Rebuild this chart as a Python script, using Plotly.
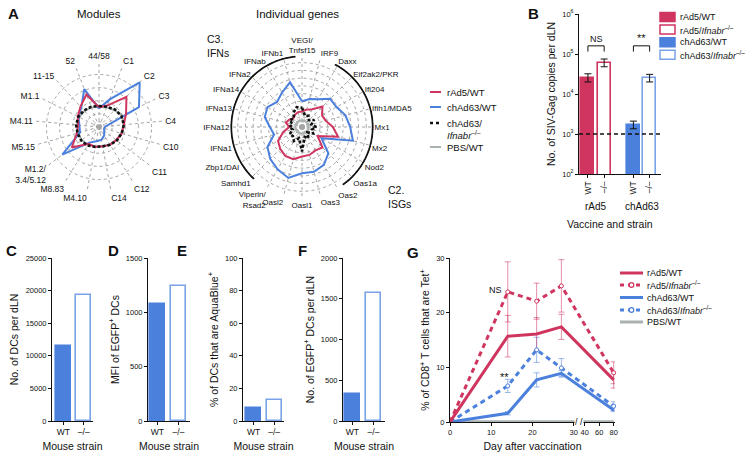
import plotly.graph_objects as go
import numpy as np

W, H = 752, 459
FONT = "Liberation Sans, Arial, Helvetica, sans-serif"
RED = "#D03560"
BLUE = "#4C80DD"
LBLUE = "#7AA2E8"
GRAY = "#A9B1B1"
BLACK = "#111111"
GRID = "#A4A4A4"

# ---------------- data ----------------
# Panel A - modules (clockwise from top)
modules = ["44/58", "C1", "C2", "C3", "C4", "C10", "C11", "C12", "C14", "M4.10", "M8.83",
           "M1.2/<br>3.4/5.12", "M5.15", "M4.11", "M1.1", "11-15", "52"]
mod_rad5_wt = [0.30, 0.35, 0.62, 0.46, 0.38, 0.36, 0.33, 0.32, 0.30, 0.31, 0.30, 0.52, 0.35, 0.32, 0.36, 0.42, 0.53]
mod_chad63_wt = [0.28, 0.45, 0.92, 0.68, 0.10, 0.08, 0.10, 0.15, 0.20, 0.22, 0.28, 0.70, 0.30, 0.30, 0.35, 0.40, 0.62]
mod_chad63_ko = [0.32, 0.33, 0.36, 0.38, 0.38, 0.36, 0.34, 0.32, 0.30, 0.31, 0.33, 0.34, 0.34, 0.35, 0.35, 0.34, 0.33]
mod_pbs = [0.31, 0.32, 0.35, 0.39, 0.38, 0.35, 0.33, 0.31, 0.30, 0.30, 0.32, 0.33, 0.33, 0.34, 0.34, 0.33, 0.32]

# Panel A - individual genes (clockwise from top)
genes = ["VEGI/<br>Tnfsf15", "IRF9", "Daxx", "Eif2ak2/PKR", "Ifi204", "Ifih1/MDA5", "Mx1", "Mx2", "Nod2",
         "Oas1a", "Oas2", "Oas3", "Oasl1", "Oasl2", "Viperin/<br>Rsad2", "Samhd1", "Zbp1/DAI", "IFNa1",
         "IFNa12", "IFNa13", "IFNa14", "IFNa2", "IFNab", "IFNb1"]
gene_rad5_wt = [0.24, 0.28, 0.32, 0.45, 0.36, 0.38, 0.48, 0.58, 0.28, 0.45, 0.42, 0.45, 0.46, 0.52, 0.52,
                0.48, 0.43, 0.30, 0.20, 0.26, 0.23, 0.19, 0.22, 0.24]
gene_chad63_wt = [0.40, 0.45, 0.50, 0.62, 0.62, 0.70, 0.75, 0.82, 0.35, 0.58, 0.68, 0.72, 0.72, 0.82, 0.76,
                  0.70, 0.62, 0.45, 0.50, 0.60, 0.62, 0.55, 0.62, 0.72]
gene_chad63_ko = [0.30, 0.18, 0.20, 0.15, 0.22, 0.15, 0.22, 0.16, 0.20, 0.12, 0.20, 0.16, 0.38, 0.18, 0.25,
                  0.20, 0.22, 0.15, 0.20, 0.15, 0.22, 0.18, 0.26, 0.32]
gene_pbs = [0.10] * len(genes)
group_c2_isgs = ["Daxx", "Eif2ak2/PKR", "Ifi204", "Ifih1/MDA5", "Mx1", "Mx2", "Nod2", "Oas1a"]
group_c3_ifns = ["Samhd1", "Zbp1/DAI", "IFNa1", "IFNa12", "IFNa13", "IFNa14", "IFNa2", "IFNab", "IFNb1"]

# Panel B
b_groups = ["rAd5", "chAd63"]
b_strains = ["WT", "–/–"]
b_vals = [2.5e4, 6.0e4, 1.7e3, 2.5e4]
b_hi = [3.2e4, 7.5e4, 2.1e3, 3.1e4]
b_lo = [2.0e4, 4.8e4, 1.35e3, 2.0e4]
b_limit = 1.0e3
b_names = ["rAd5/WT", "rAd5/<i>Ifnabr</i><sup>–/–</sup>", "chAd63/WT", "chAd63/<i>Ifnabr</i><sup>–/–</sup>"]

# Panels C-F
strains = ["WT", "–/–"]
c_vals = [11500, 19300]
d_vals = [1080, 1240]
e_vals = [8, 13]
f_vals = [335, 1570]

# Panel G
g_days = [0, 14, 21, 27, 80]
g_rad5_wt = [0, 15.7, 16.1, 17.4, 7.7]
g_rad5_wt_err = [0, 3.8, 3.0, 2.3, 1.5]
g_rad5_ko = [0, 23.8, 22.1, 24.9, 9.0]
g_rad5_ko_err = [0, 5.5, 3.3, 4.8, 2.0]
g_chad63_wt = [0, 1.6, 7.7, 8.9, 2.2]
g_chad63_wt_err = [0, 0.3, 1.3, 0.5, 0.3]
g_chad63_ko = [0, 6.6, 13.2, 9.9, 2.9]
g_chad63_ko_err = [0, 1.2, 2.3, 1.7, 0.8]
g_pbs = [0, 0, 0, 0, 0]
g_ticks = [0, 10, 20, 30, 40, 60, 80]


def gx(d):
    """broken day axis: linear 0-30, compressed 40-80"""
    return d if d <= 30 else 32.66 + (d - 40) * 0.1755


# ---------------- helpers ----------------
def xdom(x0, x1):
    return [x0 / W, x1 / W]


def ydom(ytop, ybot):
    return [1 - ybot / H, 1 - ytop / H]


def P(x, y):
    return x / W, 1 - y / H


def angles(cats):
    n = len(cats)
    return [i * 360.0 / n for i in range(n)]


def closed(v):
    return list(v) + list(v[:1])


fig = go.Figure()

# ---------------- Panel A: polar charts ----------------
mod_th = closed(angles(modules))
for vals, color, width, dash in [(mod_pbs, GRAY, 2, "solid"), (mod_chad63_wt, BLUE, 2, "solid"),
                                 (mod_rad5_wt, RED, 2, "solid"), (mod_chad63_ko, BLACK, 2.6, "3px,2px")]:
    fig.add_trace(go.Scatterpolar(r=closed(vals), theta=mod_th, mode="lines", subplot="polar",
                                  line=dict(color=color, width=width, dash=dash), showlegend=False))

gene_angles = angles(genes)
gene_th = closed(gene_angles)
for vals, color, width, dash in [(gene_pbs, GRAY, 2, "solid"), (gene_chad63_wt, BLUE, 2, "solid"),
                                 (gene_rad5_wt, RED, 2, "solid"), (gene_chad63_ko, BLACK, 2.6, "3px,2px")]:
    fig.add_trace(go.Scatterpolar(r=closed(vals), theta=gene_th, mode="lines", subplot="polar2",
                                  line=dict(color=color, width=width, dash=dash), showlegend=False))

# group arcs
step = 360.0 / len(genes)
for grp in (group_c2_isgs, group_c3_ifns):
    a0 = gene_angles[genes.index(grp[0])] - 0.15 * step
    a1 = gene_angles[genes.index(grp[-1])] + 0.65 * step
    th = np.linspace(a0, a1, 60)
    fig.add_trace(go.Scatterpolar(r=[1.1] * len(th), theta=th, mode="lines", subplot="polar2",
                                  line=dict(color=BLACK, width=1.8), showlegend=False))


def polar_layout(cx, cy, rad, cats, rmax, rings, fsize):
    return dict(
        domain=dict(x=xdom(cx - rad, cx + rad), y=ydom(cy - rad, cy + rad)),
        bgcolor="white",
        radialaxis=dict(range=[0, rmax], tickmode="array", tickvals=rings, showticklabels=False, ticks="",
                        showline=False, gridcolor=GRID, griddash="dot", gridwidth=0.8),
        angularaxis=dict(type="linear", thetaunit="degrees", rotation=90, direction="clockwise",
                         tickmode="array", tickvals=angles(cats), ticktext=cats, showline=False,
                         gridcolor=GRID, griddash="dot", gridwidth=0.8, ticks="",
                         tickfont=dict(size=fsize, color=BLACK)),
    )


polar1 = polar_layout(99, 127, 66, modules, 1.005, [0.04, 0.08, 0.2, 0.4, 0.6, 0.8, 1.0], 8.5)
polar2 = polar_layout(302, 127, 72, genes, 1.12,
                      [0.04, 0.08, 0.16, 0.28, 0.40, 0.52, 0.64, 0.76, 0.88, 1.0], 8)

# ---------------- Panel B ----------------
b_pos = [g * 2.8 + k for g in range(len(b_groups)) for k in range(len(b_strains))]
b_fill = [RED, "white", BLUE, "white"]
b_line = [RED, RED, BLUE, LBLUE]
fig.add_trace(go.Bar(x=b_pos, y=b_vals, width=0.8, xaxis="x", yaxis="y",
                     marker=dict(color=b_fill, line=dict(color=b_line, width=1.6)),
                     error_y=dict(type="data", array=[h - v for h, v in zip(b_hi, b_vals)],
                                  arrayminus=[v - l for v, l in zip(b_vals, b_lo)],
                                  color=BLACK, thickness=1, width=3.5),
                     showlegend=False))
b_xr = [-0.55, 4.5]
fig.add_trace(go.Scatter(x=b_xr, y=[b_limit, b_limit], mode="lines", xaxis="x", yaxis="y",
                         line=dict(color=BLACK, width=1.6, dash="4px,3px"), showlegend=False))
# significance brackets
for g, sig in zip(range(2), ["NS", "**"]):
    x0, x1 = b_pos[2 * g], b_pos[2 * g + 1]
    fig.add_trace(go.Scatter(x=[x0, x0, x1, x1], y=[1.15e5, 1.6e5, 1.6e5, 1.15e5], mode="lines",
                             xaxis="x", yaxis="y", line=dict(color=BLACK, width=1), showlegend=False))

# ---------------- Panels C-F ----------------
bar_fill = [BLUE, "white"]
bar_line = [BLUE, LBLUE]
for vals, ax in [(c_vals, "2"), (d_vals, "3"), (e_vals, "4"), (f_vals, "5")]:
    fig.add_trace(go.Bar(x=list(range(len(strains))), y=vals, width=0.72, xaxis="x" + ax, yaxis="y" + ax,
                         marker=dict(color=bar_fill, line=dict(color=bar_line, width=1.6)), showlegend=False))

# ---------------- Panel G ----------------
gxs = [gx(d) for d in g_days]
fig.add_trace(go.Scatter(x=gxs, y=g_pbs, mode="lines", xaxis="x6", yaxis="y6", cliponaxis=False,
                         line=dict(color=GRAY, width=3.5), showlegend=False))
series = [
    (g_chad63_ko, g_chad63_ko_err, BLUE, "5px,4px", True, "rgba(76,128,221,0.55)"),
    (g_chad63_wt, g_chad63_wt_err, BLUE, "solid", False, "rgba(76,128,221,0.55)"),
    (g_rad5_ko, g_rad5_ko_err, RED, "5px,4px", True, "rgba(208,53,96,0.55)"),
    (g_rad5_wt, g_rad5_wt_err, RED, "solid", False, "rgba(208,53,96,0.55)"),
]
for vals, err, color, dash, circ, ecol in series:
    fig.add_trace(go.Scatter(
        x=gxs, y=vals, mode="lines", xaxis="x6", yaxis="y6", cliponaxis=False,
        line=dict(color=color, width=3, dash=dash),
        error_y=dict(type="data", array=err, color=ecol, thickness=1, width=3),
        showlegend=False))
# open circle markers on the knockout series
for vals, err, color, dash, circ, ecol in series:
    if circ:
        fig.add_trace(go.Scatter(x=gxs[1:], y=vals[1:], mode="markers", xaxis="x6", yaxis="y6",
                                 cliponaxis=False,
                                 marker=dict(symbol="circle", size=4, color="white",
                                             line=dict(color=color, width=1)),
                                 showlegend=False))

# ---------------- axes ----------------
def axc(**kw):
    d = dict(showline=True, linecolor=BLACK, linewidth=1, ticks="outside", ticklen=3, tickwidth=1,
             tickcolor=BLACK, showgrid=False, zeroline=False, tickfont=dict(size=7.5, color=BLACK),
             automargin=False, title_font=dict(size=10.5, color=BLACK))
    d.update(kw)
    return d


layout_axes = dict(
    xaxis=axc(domain=xdom(579, 661), range=b_xr, anchor="y", tickmode="array", tickvals=b_pos,
              ticktext=b_strains * len(b_groups), tickangle=-90, tickfont=dict(size=8.5, color=BLACK)),
    yaxis=axc(domain=ydom(14, 174), type="log", range=[2, 6], anchor="x", tickmode="array",
              tickvals=[1e2, 1e3, 1e4, 1e5, 1e6],
              ticktext=["10<sup>2</sup>", "10<sup>3</sup>", "10<sup>4</sup>", "10<sup>5</sup>", "10<sup>6</sup>"],
              title=dict(text="No. of SIV-Gag copies per dLN", standoff=4)),
    xaxis2=axc(domain=xdom(52, 93), range=[-0.55, 1.45], anchor="y2", tickmode="array", tickvals=[0, 1],
               ticktext=strains, tickfont=dict(size=8.5, color=BLACK),
               title=dict(text="Mouse strain", standoff=6)),
    yaxis2=axc(domain=ydom(258, 421), range=[0, 25000], dtick=5000, tickformat="d", anchor="x2",
               title=dict(text="No. of DCs per dLN", standoff=4)),
    xaxis3=axc(domain=xdom(148, 190), range=[-0.45, 1.55], anchor="y3", tickmode="array", tickvals=[0, 1],
               ticktext=strains, tickfont=dict(size=8.5, color=BLACK),
               title=dict(text="Mouse strain", standoff=6)),
    yaxis3=axc(domain=ydom(258, 421), range=[0, 1500], dtick=500, tickformat="d", anchor="x3",
               title=dict(text="MFI of EGFP<sup>+</sup> DCs", standoff=4)),
    xaxis4=axc(domain=xdom(243, 284), range=[-0.52, 1.48], anchor="y4", tickmode="array", tickvals=[0, 1],
               ticktext=strains, tickfont=dict(size=8.5, color=BLACK),
               title=dict(text="Mouse strain", standoff=6)),
    yaxis4=axc(domain=ydom(258, 421), range=[0, 100], dtick=20, anchor="x4",
               title=dict(text="% of DCs that are AquaBlue<sup>+</sup>", standoff=4)),
    xaxis5=axc(domain=xdom(343, 385), range=[-0.45, 1.55], anchor="y5", tickmode="array", tickvals=[0, 1],
               ticktext=strains, tickfont=dict(size=8.5, color=BLACK),
               title=dict(text="Mouse strain", standoff=6)),
    yaxis5=axc(domain=ydom(258, 421), range=[0, 2000], dtick=500, tickformat="d", anchor="x5",
               title=dict(text="No. of EGFP<sup>+</sup> DCs per dLN", standoff=4)),
    xaxis6=axc(domain=xdom(450, 615), range=[0, 40], anchor="y6", tickmode="array",
               tickvals=[gx(t) for t in g_ticks], ticktext=[str(t) for t in g_ticks],
               title=dict(text="Day after vaccination", standoff=6)),
    yaxis6=axc(domain=ydom(258, 422), range=[0, 30], dtick=10, anchor="x6",
               title=dict(text="% of CD8<sup>+</sup> T cells that are Tet<sup>+</sup>", standoff=4)),
)

# ---------------- annotations & manual legends ----------------
shapes = []
annos = []


def text(x, y, s, size=9, xanchor="left", yanchor="middle", bold=False, **kw):
    a, b = P(x, y)
    if bold:
        s = "<b>" + s + "</b>"
    d = dict(x=a, y=b, xref="paper", yref="paper", text=s, showarrow=False, xanchor=xanchor,
             yanchor=yanchor, font=dict(size=size, color=BLACK), align="left")
    d.update(kw)
    annos.append(d)


def hline(x0, x1, y, color, width, dash="solid"):
    a, b = P(x0, y)
    c, _ = P(x1, y)
    shapes.append(dict(type="line", xref="paper", yref="paper", x0=a, x1=c, y0=b, y1=b,
                       line=dict(color=color, width=width, dash=dash)))


def rect(x0, y0, x1, y1, fill, line):
    a, b = P(x0, y1)
    c, d = P(x1, y0)
    shapes.append(dict(type="rect", xref="paper", yref="paper", x0=a, x1=c, y0=b, y1=d,
                       fillcolor=fill, line=dict(color=line, width=1.5)))


def circle(x, y, r, color):
    a, b = P(x - r, y + r)
    c, d = P(x + r, y - r)
    shapes.append(dict(type="circle", xref="paper", yref="paper", x0=a, x1=c, y0=b, y1=d,
                       fillcolor="white", line=dict(color=color, width=1.2)))


# panel letters
for lab, x, y in [("A", 13, 14), ("B", 533, 14), ("C", 12, 250), ("D", 113, 250), ("E", 182, 250),
                  ("F", 302, 250), ("G", 413, 252)]:
    text(x, y, lab, size=15, xanchor="center", bold=True)

text(99, 14, "Modules", size=11.5, xanchor="center")
text(297, 14, "Individual genes", size=11.5, xanchor="center")
text(205, 46, "C3.<br>IFNs", size=10.5, xanchor="left")
text(386, 197, "C2.<br>ISGs", size=10.5, xanchor="left")

# legend A
legA = [(92, RED, "solid", 2, "rAd5/WT"), (107, BLUE, "solid", 2, "chAd63/WT"),
        (123, BLACK, "dot", 2.4, "chAd63/<br><i>Ifnabr</i><sup>–/–</sup>"), (147, GRAY, "solid", 2, "PBS/WT")]
for y, c, dsh, w, lab in legA:
    hline(430, 441, y, c, w, dsh)
    text(445, y if "<br>" not in lab else y + 6, lab, size=9.5)

# legend B
for i, (nm, fc, lc) in enumerate(zip(b_names, b_fill, b_line)):
    y = 17 + i * 12.6
    rect(660, y - 4.5, 675, y + 4.5, fc, lc)
    text(678, y, nm, size=9)

# panel B labels
for g, grp in enumerate(b_groups):
    xm = (b_pos[2 * g] + b_pos[2 * g + 1]) / 2
    annos.append(dict(x=xm, y=1 - 207 / H, xref="x", yref="paper", text=grp, showarrow=False,
                      font=dict(size=10, color=BLACK), xanchor="center", yanchor="middle"))
    annos.append(dict(x=xm, y=np.log10(1.6e5), xref="x", yref="y", text=["NS", "**"][g], showarrow=False,
                      font=dict(size=9 if g == 0 else 11, color=BLACK), xanchor="center", yanchor="bottom",
                      yshift=0))
text(610, 224, "Vaccine and strain", size=10.5, xanchor="center")

# legend G
legG = [(273, RED, "solid", False, "rAd5/WT"), (285, RED, "dash", True, "rAd5/<i>Ifnabr</i><sup>–/–</sup>"),
        (297.5, BLUE, "solid", False, "chAd63/WT"), (310, BLUE, "dash", True, "chAd63/<i>Ifnabr</i><sup>–/–</sup>"),
        (322, GRAY, "solid", False, "PBS/WT")]
for y, c, dsh, circ, lab in legG:
    if circ:
        hline(620, 643, y, c, 3, "4px,4px")
        circle(631.5, y, 2.3, c)
    else:
        hline(620, 643, y, c, 3)
    text(645, y, lab, size=9)

# panel G annotations
for x, y, s, xa, sz in [(13.2, 24.2, "NS", "right", 9), (13.3, 8.2, "**", "center", 11),
                        (gx(80) + 0.6, 7.8, "NS", "left", 9), (gx(80) + 0.6, 2.5, "NS", "left", 9)]:
    annos.append(dict(x=x, y=y, xref="x6", yref="y6", text=s, showarrow=False, xanchor=xa,
                      yanchor="middle", font=dict(size=sz, color=BLACK)))
# axis break marks
annos.append(dict(x=(gx(30) + gx(40)) / 2, y=0, xref="x6", yref="y6", text="/ /", showarrow=False,
                  xanchor="center", yanchor="middle", font=dict(size=9, color=BLACK), bgcolor="white",
                  borderpad=0))

fig.update_layout(
    width=W, height=H, autosize=False,
    margin=dict(l=0, r=0, t=0, b=0),
    paper_bgcolor="white", plot_bgcolor="white",
    font=dict(family=FONT, size=9, color=BLACK),
    polar=polar1, polar2=polar2,
    bargap=0,
    shapes=shapes, annotations=annos,
    **layout_axes,
)

fig.write_html("out.html", config={"displayModeBar": False},
               post_script="document.body.style.margin='0';document.body.style.overflow='hidden';")
